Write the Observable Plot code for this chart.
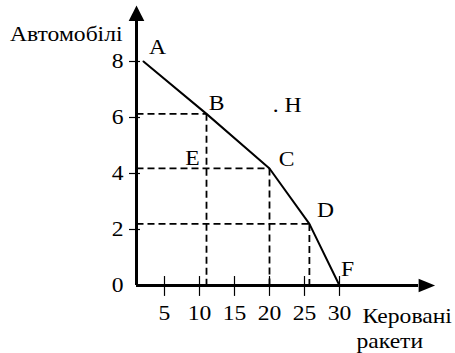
<!DOCTYPE html>
<html><head><meta charset="utf-8">
<script src="https://cdn.jsdelivr.net/npm/d3@7"></script>
<script src="https://cdn.jsdelivr.net/npm/@observablehq/plot@0.6"></script>
<style>
html,body{margin:0;padding:0;background:#fff}
svg{display:block}
</style>
</head><body><div id="chart"></div>
<script>
// Production possibilities: points A..F
const pointNames = ["A", "B", "C", "D", "F"];
const missiles = [2, 11, 20, 25.7, 30];      // Керовані ракети
const cars = [8, 6.13, 4.18, 2.2, 0];        // Автомобілі
const guideNames = ["B", "C", "D"];
const pointE = {name: "E", x: 11, y: 4.18};
const pointH = {name: ". H", x: 20.9, y: 6.35};
const xTicks = [5, 10, 15, 20, 25, 30];
const yTicks = [0, 2, 4, 6, 8];
const yTitle = "Автомобілі";
const xTitle = ["Керовані", "ракети"];

// layout / style constants
const AX = 1;          // where the y axis stands (x units)
const YTOP = 9.45;     // top of y axis line (arrow base)
const XEND = 41.3;     // end of x axis line (arrow base)
const FS = 20;
const STRETCH = 1.18;
const FONT = "Liberation Serif";
const labelOffset = {A: [14, -14], B: [10, -10], C: [17, -9], D: [16, -13], F: [8, -16], E: [-14, -10]};

const pts = pointNames.map((n, i) => ({name: n, x: missiles[i], y: cars[i]}));
const guides = pts.filter(p => guideNames.includes(p.name));
const upArrow = {draw(ctx) { ctx.moveTo(0, -15.5); ctx.lineTo(7.8, 0); ctx.lineTo(-7.8, 0); ctx.closePath(); }};
const rightArrow = {draw(ctx) { ctx.moveTo(16.5, 0); ctx.lineTo(0, -6.8); ctx.lineTo(0, 6.8); ctx.closePath(); }};
const dash = {stroke: "#000", strokeWidth: 1.8, strokeDasharray: "7,4"};
const txt = {fill: "#000", fontFamily: FONT, fontSize: FS};

const marks = [
  Plot.link(guides, {x1: AX, x2: "x", y1: "y", y2: "y", ...dash}),
  Plot.link(guides, {x1: "x", x2: "x", y1: "y", y2: 0, ...dash}),
  Plot.line(pts, {x: "x", y: "y", stroke: "#000", strokeWidth: 2}),
  Plot.ruleX([AX], {y1: 0, y2: YTOP, stroke: "#000", strokeWidth: 3}),
  Plot.ruleY([0], {x1: AX, x2: XEND, stroke: "#000", strokeWidth: 3}),
  Plot.dot([0], {x: AX, y: YTOP, symbol: upArrow, fill: "#000", stroke: "none"}),
  Plot.dot([0], {x: XEND, y: 0, symbol: rightArrow, fill: "#000", stroke: "none"}),
  Plot.ruleX(xTicks, {x: d => d, y1: -0.39, y2: 0.32, stroke: "#000", strokeWidth: 1.2}),
  Plot.ruleY(yTicks.slice(1), {y: d => d, x1: 0, x2: AX + 0.57, stroke: "#000", strokeWidth: 1.2}),
  Plot.text(xTicks, {x: d => d, y: 0, dy: 28, text: d => String(d), ...txt}),
  Plot.text(yTicks, {x: AX, y: d => d, dx: -13, textAnchor: "end", text: d => String(d), ...txt}),
  Plot.text([yTitle], {x: AX, y: 10, dx: -14, dy: 35, textAnchor: "end", lineAnchor: "bottom", text: d => d, ...txt}),
  Plot.text([xTitle[0]], {x: 30, y: 0, dx: 23, dy: 37, textAnchor: "start", lineAnchor: "bottom", text: d => d, ...txt}),
  Plot.text([xTitle[1]], {x: 30, y: 0, dx: 17, dy: 62, textAnchor: "start", lineAnchor: "bottom", text: d => d, ...txt}),
  ...[...pts, pointE].map(p => Plot.text([p], {x: "x", y: "y", text: "name", dx: labelOffset[p.name][0], dy: labelOffset[p.name][1], ...txt})),
  Plot.text([pointH], {x: "x", y: "y", text: "name", textAnchor: "start", dx: -3, dy: -2, ...txt})
];

const chart = Plot.plot({
  width: 455, height: 353,
  marginLeft: 129, marginRight: 11, marginTop: 5, marginBottom: 68,
  x: {domain: [0, 45], axis: null},
  y: {domain: [0, 10], axis: null},
  style: {fontFamily: FONT, fontSize: FS + "px", background: "#fff", color: "#000", overflow: "visible"},
  marks
});
chart.setAttribute("font-family", FONT);
chart.querySelectorAll("text").forEach(t => {
  const tr = t.getAttribute("transform") || "";
  t.setAttribute("transform", tr + ` scale(${STRETCH},1)`);
  t.setAttribute("font-family", FONT);
  t.style.fontFamily = `"${FONT}", serif`;
});
document.getElementById("chart").appendChild(chart);
</script>
</body></html>
